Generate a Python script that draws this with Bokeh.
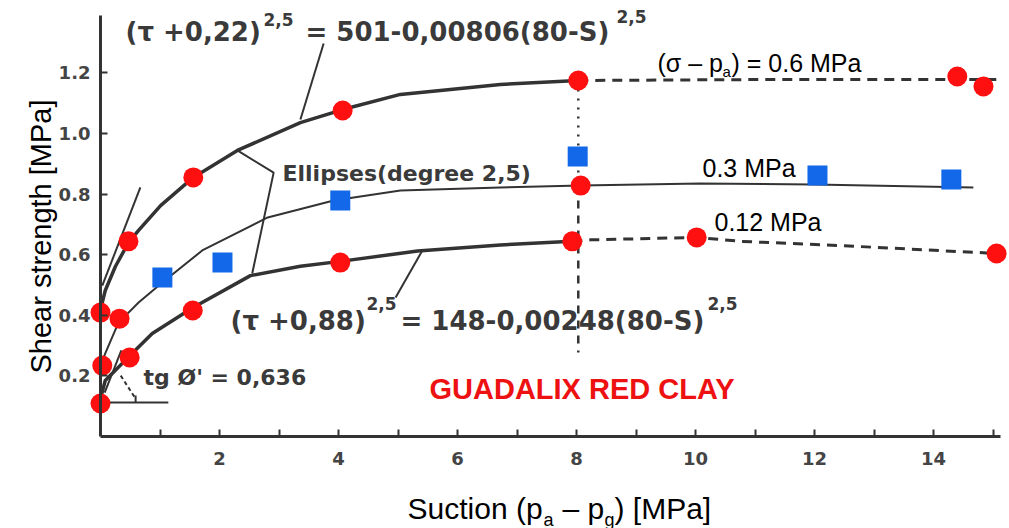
import math
from bokeh.plotting import figure
from bokeh.models import Label, FixedTicker, Range1d, PrintfTickFormatter
from bokeh.embed import file_html
from bokeh.resources import INLINE

# ---------------- data ----------------
# fitted curve, (sigma - pa) = 0.6 MPa  (solid up to s = 8, dashed beyond)
c06_s = [0.0, 0.08, 0.25, 0.47, 0.64, 1.01, 1.56, 2.30, 3.36, 4.07, 5.04, 6.72, 8.03]
c06_t = [0.419, 0.482, 0.561, 0.640, 0.680, 0.762, 0.855, 0.944, 1.036, 1.079, 1.129, 1.162, 1.175]
c06d_s = [8.03, 11.0, 15.1]
c06d_t = [1.175, 1.178, 1.178]

# fitted curve, 0.3 MPa (thin solid)
c03_s = [0.0, 0.08, 0.30, 0.64, 1.04, 1.71, 2.81, 3.92, 5.04, 6.72, 8.07, 10.08, 12.0, 14.67]
c03_t = [0.234, 0.274, 0.375, 0.442, 0.508, 0.614, 0.723, 0.779, 0.812, 0.822, 0.828, 0.835, 0.832, 0.822]

# fitted curve, 0.12 MPa (solid up to s = 8, dashed beyond)
c012_s = [0.0, 0.08, 0.47, 0.87, 1.55, 2.52, 3.36, 4.03, 5.33, 6.72, 7.93]
c012_t = [0.125, 0.185, 0.262, 0.340, 0.425, 0.531, 0.562, 0.578, 0.612, 0.632, 0.644]
c012d_s = [7.93, 8.24, 10.02, 10.76, 12.44, 13.56, 14.67, 15.06]
c012d_t = [0.644, 0.649, 0.657, 0.644, 0.630, 0.619, 0.608, 0.604]

# measured points (red circles)
red_s = [0.0, 0.03, 0.0, 0.32, 0.49, 0.47, 1.55, 1.56, 4.03, 4.07, 7.93, 8.03, 8.07, 10.02, 14.40, 14.84, 15.06]
red_t = [0.109, 0.234, 0.409, 0.389, 0.261, 0.644, 0.416, 0.855, 0.574, 1.076, 0.644, 1.175, 0.828, 0.657, 1.188, 1.155, 0.604]

# measured points (blue squares)
blue_s = [1.04, 2.05, 4.03, 8.02, 12.05, 14.30]
blue_t = [0.525, 0.574, 0.779, 0.924, 0.861, 0.848]

xtick_major = [2, 4, 6, 8, 10, 12, 14]
xtick_minor = [1, 3, 5, 7, 9, 11, 13, 15]
ytick_major = [0.2, 0.4, 0.6, 0.8, 1.0, 1.2]
x_axis_extent = (0, 15.13)
y_axis_extent = (0, 1.39)

# ---------------- figure geometry ----------------
W, H = 1009, 528
ORIGIN_PX = (100, 436)      # where (0, 0) sits on the page
SX, SY = 59.5, 303.0        # pixels per unit on x and y

INK = "#333333"
RED = "#ff1010"
BLUE = "#1268e8"


def dx(px):
    return (px - ORIGIN_PX[0]) / SX


def dy(py):
    return (ORIGIN_PX[1] - py) / SY


p = figure(width=W, height=H,
           x_range=Range1d(dx(0), dx(W)), y_range=Range1d(dy(H), dy(0)),
           output_backend="svg", toolbar_location=None, title=None,
           min_border_left=0, min_border_right=0,
           min_border_top=0, min_border_bottom=0)
p.outline_line_color = None
p.grid.visible = False
p.background_fill_color = "white"
p.border_fill_color = "white"

# axes drawn through the origin
p.xaxis.fixed_location = 0
p.yaxis.fixed_location = 0
p.xaxis.bounds = x_axis_extent
p.yaxis.bounds = y_axis_extent

for ax in (p.xaxis[0], p.yaxis[0]):
    ax.axis_line_width = 3
    ax.axis_line_color = INK
    ax.major_tick_in = 7
    ax.major_tick_out = 0
    ax.major_tick_line_width = 2
    ax.major_tick_line_color = INK
    ax.major_label_text_font = "DejaVu Sans"
    ax.major_label_text_font_style = "bold"
    ax.major_label_text_font_size = "18px"
    ax.major_label_text_color = "#444444"

p.xaxis.ticker = FixedTicker(ticks=xtick_major, minor_ticks=xtick_minor)
p.xaxis.minor_tick_in = 7
p.xaxis.minor_tick_out = 0
p.xaxis.minor_tick_line_width = 2
p.xaxis.minor_tick_line_color = INK
p.xaxis.major_label_standoff = 15

p.yaxis.ticker = FixedTicker(ticks=ytick_major)
p.yaxis.formatter = PrintfTickFormatter(format="%.1f")
p.yaxis.minor_tick_line_color = None
p.yaxis.major_label_standoff = 10

# ---------------- curves ----------------
p.line(c06_s, c06_t, line_color=INK, line_width=3.5)
p.line(c06d_s, c06d_t, line_color=INK, line_width=3, line_dash="10 7")
p.line(c03_s, c03_t, line_color=INK, line_width=2)
p.line(c012_s, c012_t, line_color=INK, line_width=3.5)
p.line(c012d_s, c012d_t, line_color=INK, line_width=3, line_dash="10 7")

# construction / leader lines (annotation geometry)
leaders = [
    ([3.75, 3.36], [1.297, 1.046]),               # top equation pointer
    ([2.30, 2.91, 2.55], [0.944, 0.871, 0.538]),  # ellipses bracket
    ([4.96, 5.41], [0.459, 0.614]),               # bottom equation pointer
    ([0.03, 0.67], [0.498, 0.822]),               # tangent at s = 0 (upper)
    ([0.07, 0.35], [0.145, 0.284]),               # tangent at s = 0 (lower)
    ([0.0, 1.14], [0.112, 0.112]),                # horizontal for tg phi'
    ([0.59, 0.59], [0.112, 0.135]),               # small tick
]
p.multi_line([l[0] for l in leaders], [l[1] for l in leaders], line_color=INK, line_width=2)
p.line([0.34, 0.59], [0.201, 0.125], line_color=INK, line_width=2, line_dash="4 3")

# vertical reference at s = 8
p.line([8.03, 8.03], [1.175, 0.828], line_color=INK, line_width=2.5, line_dash="2 7")
p.line([8.03, 8.03], [0.828, 0.277], line_color=INK, line_width=2.5, line_dash="8 7")

# ---------------- markers ----------------
p.scatter(red_s, red_t, marker="circle", size=20, fill_color=RED, line_color=None)
p.scatter(blue_s, blue_t, marker="square", size=20, fill_color=BLUE, line_color=None)


# ---------------- texts ----------------
def lab(text, px, py, size, font="DejaVu Sans", style="bold", color="#3a3a3a",
        align="left", angle=0.0):
    p.add_layout(Label(x=dx(px), y=dy(py), text=text, text_font=font,
                       text_font_size=f"{size}px", text_font_style=style,
                       text_color=color, text_align=align, text_baseline="middle",
                       angle=angle))


# old-style lettering annotations
lab("(τ +0,22)", 125, 31, 26)
lab("2,5", 263, 19, 17)
lab("= 501-0,00806(80-S)", 305, 31, 26)
lab("2,5", 616, 16, 17)

lab("(τ +0,88)", 230, 320, 26)
lab("2,5", 366, 303, 17)
lab("= 148-0,00248(80-S)", 400, 320, 26)
lab("2,5", 707, 303, 17)

lab("Ellipses(degree 2,5)", 282, 173, 22)
lab("tg Ø' = 0,636", 143, 377, 22)

# overlay labels (Arial-like)
AR = "Liberation Sans"
lab("(σ – p", 657, 62, 25, font=AR, style="normal", color="black")
lab("a", 722, 71, 15, font=AR, style="normal", color="black")
lab(") = 0.6 MPa", 731, 62, 25, font=AR, style="normal", color="black")
lab("0.3 MPa", 702, 167, 25, font=AR, style="normal", color="black")
lab("0.12 MPa", 714, 221, 25, font=AR, style="normal", color="black")

lab("GUADALIX RED CLAY", 429, 388, 29, font=AR, style="bold", color="#ee1111")

# axis titles
lab("Shear strength [MPa]", 40, 236, 29, font=AR, style="normal", color="black",
    align="center", angle=math.pi / 2)
lab("Suction (p", 407, 508, 30, font=AR, style="normal", color="black")
lab("a", 543, 519, 18, font=AR, style="normal", color="black")
lab("– p", 562, 508, 30, font=AR, style="normal", color="black")
lab("g", 604, 519, 18, font=AR, style="normal", color="black")
lab(") [MPa]", 614, 508, 30, font=AR, style="normal", color="black")

open("out.html", "w").write(file_html(p, INLINE))
